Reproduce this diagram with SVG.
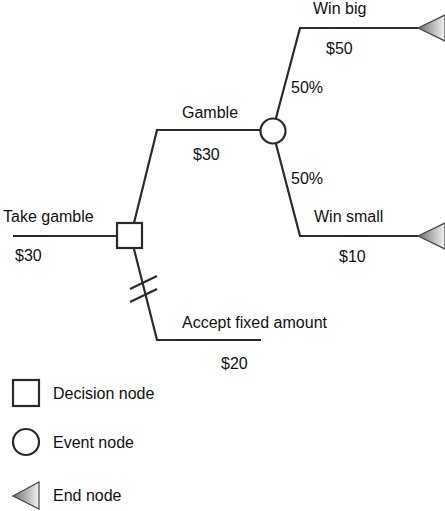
<svg xmlns="http://www.w3.org/2000/svg" width="445" height="511" viewBox="0 0 445 511">
<defs>
<linearGradient id="g" x1="0" y1="0" x2="1" y2="0">
<stop offset="0" stop-color="#6e6e6e"/>
<stop offset="1" stop-color="#f2f2f2"/>
</linearGradient>
</defs>
<style>
text{font-family:"Liberation Sans",Arial,sans-serif;font-size:16px;fill:#111}
.ln{fill:none;stroke:#2a2a2a;stroke-width:2.2}
.nd{fill:#fff;stroke:#2a2a2a;stroke-width:2.2}
.end{fill:url(#g);stroke:#444;stroke-width:1.2}
</style>
<rect width="445" height="511" fill="#fff"/>
<g id="connectors">
<polyline class="ln" points="13,236 117,236"/>
<polyline class="ln" points="134,223 157,130 261,130"/>
<polyline class="ln" points="134,249 157,340 261,340"/>
<polyline class="ln" points="276,118 300,28 418,28"/>
<polyline class="ln" points="276,144 300,236 418,236"/>
<line class="ln" x1="130" y1="289" x2="157" y2="276"/>
<line class="ln" x1="130" y1="302" x2="157" y2="289"/>
</g>
<g id="decision"><rect class="nd" x="117" y="223" width="25" height="25"/></g>
<g id="event"><circle class="nd" cx="273" cy="131" r="12.5"/></g>
<g id="end-big"><polygon class="end" points="418,28 445,15 445,41"/></g>
<g id="end-small"><polygon class="end" points="418,236 445,223 445,249"/></g>
<g id="labels">
<text x="3" y="222">Take gamble</text>
<text x="15" y="261">$30</text>
<text x="182" y="118">Gamble</text>
<text x="193" y="160">$30</text>
<text x="313" y="14">Win big</text>
<text x="326" y="54">$50</text>
<text x="291" y="93">50%</text>
<text x="291" y="184">50%</text>
<text x="314" y="222">Win small</text>
<text x="339" y="262">$10</text>
<text x="182" y="328">Accept fixed amount</text>
<text x="221" y="369">$20</text>
</g>
<g id="legend">
<rect class="nd" x="13" y="380" width="26" height="26"/>
<text x="53" y="399">Decision node</text>
<circle class="nd" cx="26" cy="442" r="13"/>
<text x="53" y="448">Event node</text>
<polygon class="end" points="13,496 39,482 39,509"/>
<text x="53" y="501">End node</text>
</g>
</svg>
